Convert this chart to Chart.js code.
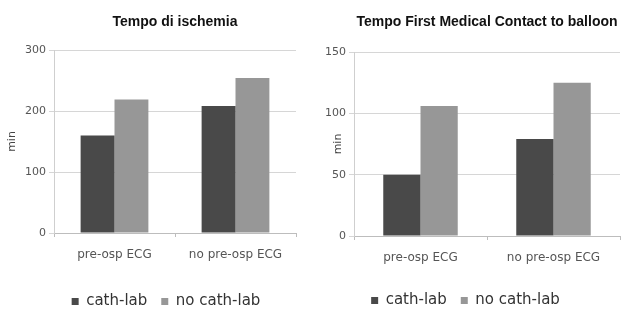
<!DOCTYPE html>
<html>
<head>
<meta charset="utf-8">
<script src="https://cdn.jsdelivr.net/npm/chart.js@4.4.1/dist/chart.umd.min.js"></script>
<style>
  html, body { margin: 0; padding: 0; background: #fff; }
  .box { position: absolute; top: 0; height: 309px; }
  #left { left: 0; width: 311px; }
  #right { left: 311px; width: 312px; }
</style>
</head>
<body>
<div class="box" id="left"><canvas id="chartIschemia"></canvas></div>
<div class="box" id="right"><canvas id="chartFmc"></canvas></div>
<script>
const categories = ['pre-osp ECG', 'no pre-osp ECG'];
const seriesNames = ['cath-lab', 'no cath-lab'];

const ischemiaCathLab = [160, 208];
const ischemiaNoCathLab = [219, 254];
const ischemiaTicks = [0, 100, 200, 300];

const fmcCathLab = [50, 79];
const fmcNoCathLab = [106, 125];
const fmcTicks = [0, 50, 100, 150];

const DARK = '#494949';
const LIGHT = '#979797';
const FONT = "'DejaVu Sans', sans-serif";

// title is centered over the plot area, not the canvas
const plotTitle = {
    id: 'plotTitle',
    afterLayout(chart, args, opts) {
        // nudge the legend so it sits like the original
        const lg = chart.legend;
        if (lg && opts.legendShift) {
            const [dx, dy] = opts.legendShift;
            lg.left += dx; lg.right += dx;
            lg.top += dy; lg.bottom += dy;
        }
    },
    afterDraw(chart, args, opts) {
        const { ctx, chartArea } = chart;
        ctx.save();
        ctx.font = "bold 14px 'Liberation Sans', Arial, sans-serif";
        ctx.fillStyle = '#111';
        ctx.textAlign = 'center';
        ctx.textBaseline = 'middle';
        ctx.fillText(opts.text, (chartArea.left + chartArea.right) / 2, opts.y);
        ctx.restore();
    }
};

function makeChart(id, title, cath, noCath, ticks, axisWidth, axisHeight, pad, shift, minPad) {
    const ctx = document.getElementById(id).getContext('2d');
    return new Chart(ctx, {
        type: 'bar',
        data: {
            labels: categories,
            datasets: [
                { label: seriesNames[0], data: cath, backgroundColor: DARK },
                { label: seriesNames[1], data: noCath, backgroundColor: LIGHT }
            ]
        },
        plugins: [plotTitle],
        options: {
            responsive: true,
            maintainAspectRatio: false,
            animation: false,
            categoryPercentage: 0.56,
            barPercentage: 1.0,
            layout: { padding: pad },
            plugins: {
                plotTitle: { text: title, y: 22, legendShift: shift },
                tooltip: { enabled: false },
                legend: {
                    position: 'bottom',
                    labels: {
                        boxWidth: 7, boxHeight: 7,
                        padding: 14,
                        color: '#333',
                        font: { family: FONT, size: 15 }
                    }
                }
            },
            scales: {
                x: {
                    grid: { display: true, drawOnChartArea: false, tickLength: 4, color: '#bdbdbd' },
                    border: { color: '#bdbdbd' },
                    ticks: { color: '#555', padding: 11, font: { family: FONT, size: 12 } },
                    afterFit(scale) { scale.height = axisHeight; }
                },
                y: {
                    min: ticks[0],
                    max: ticks[ticks.length - 1],
                    afterBuildTicks(scale) { scale.ticks = ticks.map(v => ({ value: v })); },
                    grid: { color: '#d6d6d6', tickLength: 5 },
                    border: { color: '#cfcfcf' },
                    ticks: { color: '#555', padding: 3, font: { family: FONT, size: 11 } },
                    title: { display: true, text: 'min', color: '#444', padding: { top: minPad, bottom: 2 }, font: { family: FONT, size: 11 } },
                    afterFit(scale) { scale.width = axisWidth; }
                }
            }
        }
    });
}

makeChart('chartIschemia', 'Tempo di ischemia', ischemiaCathLab, ischemiaNoCathLab, ischemiaTicks, 54, 37, { top: 50, right: 15, bottom: 0, left: 0 }, [18, 10], 6);
makeChart('chartFmc', 'Tempo First Medical Contact to balloon', fmcCathLab, fmcNoCathLab, fmcTicks, 43, 34, { top: 52, right: 3, bottom: 0, left: 0 }, [0, 9], 21);
</script>
</body>
</html>
